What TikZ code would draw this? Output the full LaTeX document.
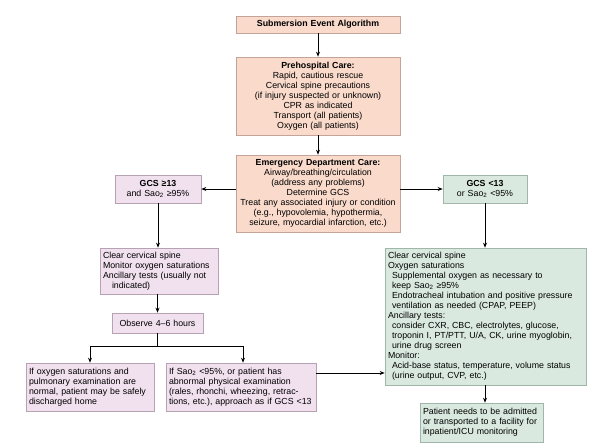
\documentclass[tikz,border=0pt]{standalone}
\usepackage{fontspec}
\setmainfont{Liberation Sans}
\usetikzlibrary{arrows.meta}

\definecolor{careFill}{HTML}{F9DACB}
\definecolor{careLine}{HTML}{C4A498}
\definecolor{mildFill}{HTML}{F1E1EF}
\definecolor{mildLine}{HTML}{B6A2B4}
\definecolor{sevFill}{HTML}{DAE9E0}
\definecolor{sevLine}{HTML}{9FB6A8}

\newcommand{\indnt}{\hspace*{4pt}}

\tikzset{
  box/.style={draw, line width=0.6pt, inner xsep=3pt, inner ysep=2pt, align=center},
  care/.style={box, fill=careFill, draw=careLine},
  mild/.style={box, fill=mildFill, draw=mildLine},
  severe/.style={box, fill=sevFill, draw=sevLine}
}

\begin{document}
\begin{tikzpicture}[x=1pt, y=-1pt, line width=0.8pt, >={Stealth[length=5pt,width=4pt]},
  font=\fontsize{8.8}{10}\selectfont]
  \useasboundingbox (0,0) rectangle (600,447);
  % main column
  \node[care, text width=158pt, minimum height=17pt] (title) at (318,24.5) {\textbf{Submersion Event Algorithm}};
  \node[care, text width=158pt, minimum height=78pt] (pre) at (318,96) {\textbf{Prehospital Care:}\\ Rapid, cautious rescue\\ Cervical spine precautions\\ (if injury suspected or unknown)\\ CPR as indicated\\ Transport (all patients)\\ Oxygen (all patients)};
  \node[care, text width=158pt, minimum height=77pt] (ed) at (318,193.5) {\textbf{Emergency Department Care:}\\ Airway/breathing/circulation\\ (address any problems)\\ Determine GCS\\ Treat any associated injury or condition\\ (e.g., hypovolemia, hypothermia,\\ seizure, myocardial infarction, etc.)};
  % left branch
  \node[mild, text width=80pt, minimum height=28pt] (gcsA) at (158,189) {\textbf{GCS ≥13}\\ and Sao\textsubscript{2} ≥95\%};
  \node[mild, align=left, text width=112pt, minimum height=46pt] (clearA) at (159,271) {Clear cervical spine\\ Monitor oxygen saturations\\ Ancillary tests (usually not\\ \hspace*{9pt}indicated)};
  \node[mild, text width=85pt, minimum height=20pt] (obs) at (157.5,323) {Observe 4--6 hours};
  \node[mild, align=left, text width=122pt, minimum height=48pt] (home) at (90,387) {If oxygen saturations and\\ pulmonary examination are\\ normal, patient may be safely\\ discharged home};
  \node[mild, align=left, text width=144pt, minimum height=48pt] (abn) at (241,387) {If Sao\textsubscript{2} <95\%, or patient has\\ abnormal physical examination\\ (rales, rhonchi, wheezing, retrac-\\ tions, etc.), approach as if GCS <13};
  % right branch
  \node[severe, text width=78pt, minimum height=28pt] (gcsB) at (485,189) {\textbf{GCS <13}\\ or Sao\textsubscript{2} <95\%};
  \node[severe, align=left, text width=195pt, minimum height=137pt] (bigB) at (485.5,316.5) {Clear cervical spine\\ Oxygen saturations\\ \indnt Supplemental oxygen as necessary to\\ \indnt keep Sao\textsubscript{2} ≥95\%\\ \indnt Endotracheal intubation and positive pressure\\ \indnt ventilation as needed (CPAP, PEEP)\\ Ancillary tests:\\ \indnt consider CXR, CBC, electrolytes, glucose,\\ \indnt troponin I, PT/PTT, U/A, CK, urine myoglobin,\\ \indnt urine drug screen\\ Monitor:\\ \indnt Acid-base status, temperature, volume status\\ \indnt (urine output, CVP, etc.)};
  \node[severe, align=left, text width=117pt, minimum height=39pt] (admit) at (481.5,422.5) {Patient needs to be admitted\\ or transported to a facility for\\ inpatient/ICU monitoring};

  \draw[->] (title) -- (pre);
  \draw[->] (pre) -- (ed);
  \draw[->] (ed.west |- gcsA.east) -- (gcsA.east);
  \draw[->] (ed.east |- gcsB.west) -- (gcsB.west);
  \draw[->] (gcsA.south) -- (gcsA.south |- clearA.north);
  \draw[->] (clearA.south -| obs.north) -- (obs.north);
  \draw (obs.south) -- ++(0,13) coordinate (split);
  \draw[->] (split) -| (home.north);
  \draw[->] (split) -| ([xshift=2pt]abn.north);
  \draw[->] ([yshift=14pt]abn.east) -- ([yshift=14pt]abn.east -| bigB.west);
  \draw[->] (gcsB.south) -- (gcsB.south |- bigB.north);
  \draw[->] (bigB.south -| gcsB.south) -- (gcsB.south |- admit.north);
\end{tikzpicture}
\end{document}
